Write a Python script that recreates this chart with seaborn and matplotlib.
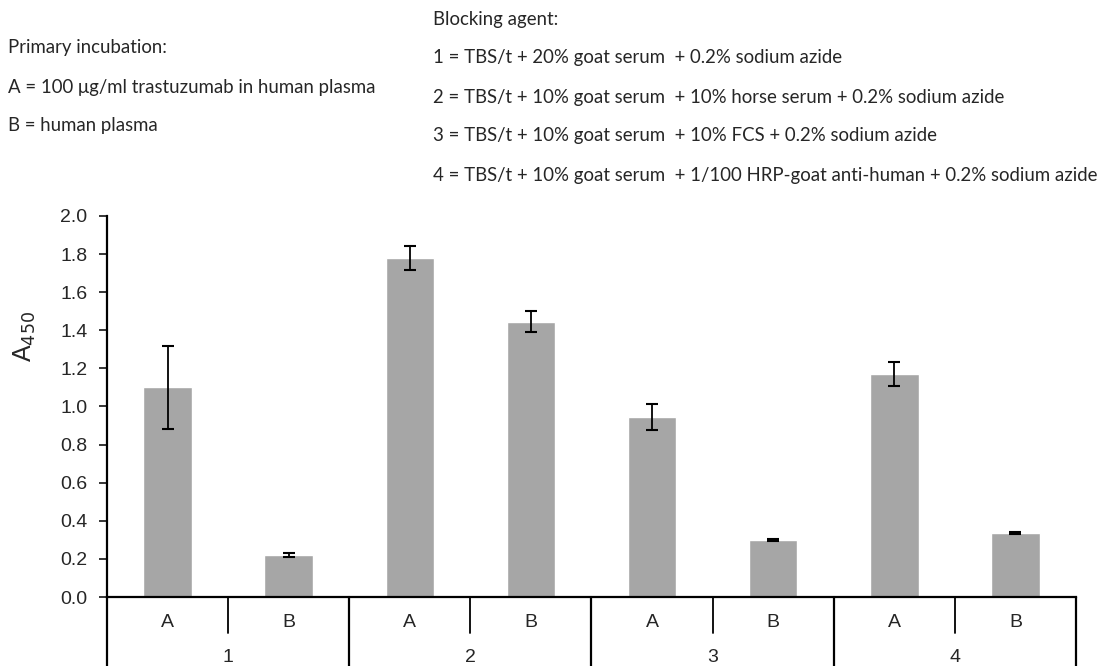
import pandas as pd
import numpy as np
import matplotlib
matplotlib.use("Agg")
import matplotlib.pyplot as plt
import matplotlib.transforms as mtransforms
import seaborn as sns

# ---------------------------------------------------------------------
# Data
# ---------------------------------------------------------------------
agents = ["1", "2", "3", "4"]
incubations = ["A", "B"]
means = [1.10, 0.22, 1.78, 1.445, 0.945, 0.30, 1.17, 0.335]
errors = [0.22, 0.012, 0.063, 0.055, 0.068, 0.006, 0.065, 0.004]

incubation_notes = [
    "Primary incubation:",
    "A = 100 \u03bcg/ml trastuzumab in human plasma",
    "B = human plasma",
]
blocking_notes = [
    "Blocking agent:",
    "1 = TBS/t + 20% goat serum  + 0.2% sodium azide",
    "2 = TBS/t + 10% goat serum  + 10% horse serum + 0.2% sodium azide",
    "3 = TBS/t + 10% goat serum  + 10% FCS + 0.2% sodium azide",
    "4 = TBS/t + 10% goat serum  + 1/100 HRP-goat anti-human + 0.2% sodium azide",
]

df = pd.DataFrame({
    "agent": [a for a in agents for _ in incubations],
    "incubation": incubations * len(agents),
    "mean": means,
    "err": errors,
})
df["key"] = df["agent"] + df["incubation"]

# ---------------------------------------------------------------------
# Plot
# ---------------------------------------------------------------------
sns.set_style("white")
plt.rcParams["font.family"] = ["Liberation Sans", "DejaVu Sans"]

fig = plt.figure(figsize=(11.03, 6.66), dpi=100)
ax = fig.add_axes([0.097, 0.1036, 0.8785, 0.5721])

sns.barplot(data=df, x="key", y="mean", order=list(df["key"]), color="#a6a6a6",
            width=0.4, errorbar=None, saturation=1, ax=ax)
xs = np.arange(len(df))
ax.errorbar(xs, df["mean"], yerr=df["err"], fmt="none", ecolor="black",
            elinewidth=1.3, capsize=4, capthick=1.5)

ax.set_xlim(-0.5, len(df) - 0.5)
ax.set_ylim(0, 2.0)
yt = np.arange(0, 2.01, 0.2)
ax.set_yticks(yt)
ax.set_yticklabels([f"{v:.1f}" for v in yt], fontsize=14)
ax.tick_params(axis="y", left=True, length=6, width=1.3, direction="out", pad=8)
ax.set_xticks([])
ax.set_xlabel("")
ax.set_ylabel("A$_{450}$", fontsize=18)
ax.yaxis.set_label_coords(-0.071, 0.683)

for s in ["top", "right"]:
    ax.spines[s].set_visible(False)
for s in ["left", "bottom"]:
    ax.spines[s].set_linewidth(1.6)
    ax.spines[s].set_color("black")

# two-level category axis
trans = mtransforms.blended_transform_factory(ax.transData, ax.transAxes)
sub_depth = -36 / 381
full_depth = -70 / 381
for i, row in df.iterrows():
    ax.text(i, -25 / 381, row["incubation"], transform=trans, ha="center",
            va="center", fontsize=14)
for i in range(len(df) + 1):
    x = i - 0.5
    if i % 2 == 1:
        ax.plot([x, x], [0, sub_depth], transform=trans, color="black", lw=1.3,
                clip_on=False)
    else:
        ax.plot([x, x], [0, full_depth], transform=trans, color="black", lw=1.6,
                clip_on=False)
for g, agent in enumerate(agents):
    ax.text(2 * g + 0.5, -60 / 381, agent, transform=trans, ha="center",
            va="center", fontsize=14)

# annotation text above the chart
note_font = ["Lato", "DejaVu Sans"]
for k, line in enumerate(incubation_notes):
    fig.text(8 / 1103, 1 - (48 + 39 * k) / 666, line, fontsize=13.4,
             va="center", ha="left", family=note_font)
for k, line in enumerate(blocking_notes):
    fig.text(433 / 1103, 1 - (19 + 39 * k) / 666, line, fontsize=13.4,
             va="center", ha="left", family=note_font)

fig.savefig("out.png", dpi=100)
